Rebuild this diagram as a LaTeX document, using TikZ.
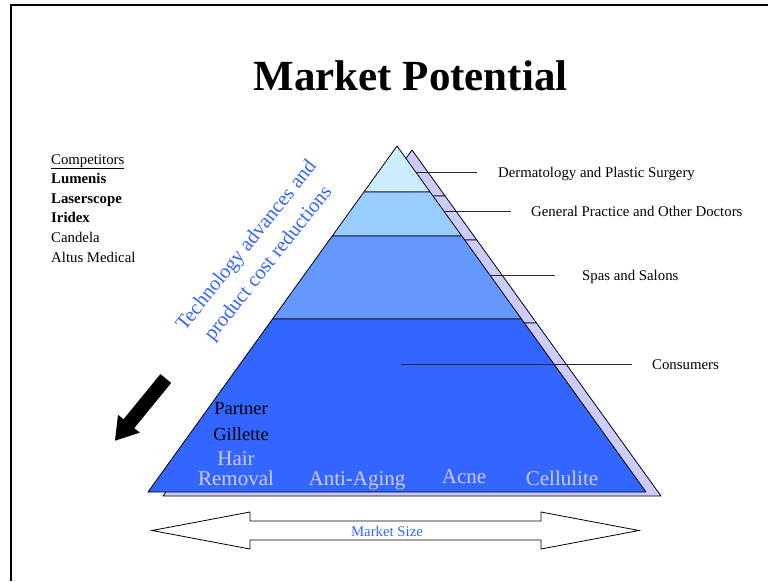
\documentclass[tikz,border=0pt]{standalone}
\usepackage{fontspec}
\setmainfont{Liberation Serif}
\definecolor{tierA}{HTML}{CCECFF}
\definecolor{tierB}{HTML}{99CCFF}
\definecolor{tierC}{HTML}{6699FF}
\definecolor{tierD}{HTML}{3366FF}
\definecolor{shade}{HTML}{CCCCFF}
\definecolor{labelblue}{HTML}{3366FF}
\definecolor{segtext}{HTML}{CCCCFF}
% the four tiers of the pyramid, each with its own fill
\newcommand\drawtiers[4]{%
  \draw[tier,fill=#1] (397,146) -- (430.1,192) -- (363.9,192) -- cycle;
  \draw[tier,fill=#2] (363.9,192) -- (430.1,192) -- (461.8,236) -- (332.2,236) -- cycle;
  \draw[tier,fill=#3] (332.2,236) -- (461.8,236) -- (521.5,319) -- (272.5,319) -- cycle;
  \draw[tier,fill=#4] (272.5,319) -- (521.5,319) -- (646,492) -- (148,492) -- cycle;
}
\begin{document}
\begin{tikzpicture}[x=1pt,y=-1pt,
  tier/.style={draw=black,line width=0.8pt,line join=round},
  leader/.style={draw=black!85,line width=0.9pt},
  seglabel/.style={inner sep=0pt,anchor=base west,font=\fontsize{14.8}{17}\selectfont},
  complabel/.style={inner sep=0pt,anchor=base west,font=\fontsize{14.8}{17}\selectfont},
  market/.style={inner sep=0pt,anchor=base,text=segtext,font=\fontsize{21}{20}\selectfont},
  partner/.style={inner sep=0pt,anchor=base,text=black,font=\fontsize{18.5}{20}\selectfont}]
\useasboundingbox (0,0) rectangle (768,581);
\fill[white] (0,0) rectangle (768,581);

% frame
\draw[line width=2pt] (768,5) -- (11,5) -- (11,581);

% title
\node[inner sep=0pt,anchor=base,font=\bfseries\fontsize{43}{48}\selectfont] (title) at (410.5,90) {Market Potential};

% competitors list
\node[complabel] (comp0) at (51,164) {\underline{Competitors}};
\node[complabel,font=\bfseries\fontsize{14.8}{17}\selectfont] (comp1) at (51,183.6) {Lumenis};
\node[complabel,font=\bfseries\fontsize{14.8}{17}\selectfont] (comp2) at (51,203.2) {Laserscope};
\node[complabel,font=\bfseries\fontsize{14.8}{17}\selectfont] (comp3) at (51,222.8) {Iridex};
\node[complabel] (comp4) at (51,242.4) {Candela};
\node[complabel] (comp5) at (51,262) {Altus Medical};

% rotated trend text
\node[inner sep=0pt,align=center,rotate=51.3,text=labelblue,
      font=\fontsize{20.5}{28}\selectfont] (trend) at (258,255)
  {Technology advances and\\product cost reductions};

% block arrow pointing down-left
\fill[black] (160.4,374.1) -- (171.2,382.9) -- (134.3,428.1) -- (139.8,432.6)
  -- (115,440.7) -- (118.0,414.8) -- (123.5,419.3) -- cycle;

% pyramid with its offset shadow
\begin{scope}[shift={(15,4)}]
  \drawtiers{shade}{shade}{shade}{shade}
\end{scope}
\drawtiers{tierA}{tierB}{tierC}{tierD}

% segment labels with leader lines
\coordinate (d1) at (415.7,172);  \coordinate (d2) at (477,172);
\coordinate (g1) at (443.8,211);  \coordinate (g2) at (511,211);
\coordinate (s1) at (489.8,275);  \coordinate (s2) at (555,275);
\coordinate (c1) at (401,364);    \coordinate (c2) at (632,364);
\draw[leader] (d1) -- (d2);
\draw[leader] (g1) -- (g2);
\draw[leader] (s1) -- (s2);
\draw[leader] (c1) -- (c2);
\node[seglabel] (derm) at (498,177) {Dermatology and Plastic Surgery};
\node[seglabel] (gp) at (531,216) {General Practice and Other Doctors};
\node[seglabel] (spa) at (582,280) {Spas and Salons};
\node[seglabel] (cons) at (652,369) {Consumers};

% texts inside the base tier
\node[partner] (partner) at (241,414) {Partner};
\node[partner] (gillette) at (241,440) {Gillette};
\node[market] (hair) at (236,465) {Hair};
\node[market] (removal) at (236,485) {Removal};
\node[market] (anti) at (357,485) {Anti-Aging};
\node[market] (acne) at (464,483) {Acne};
\node[market] (cell) at (562,485) {Cellulite};

% market size double arrow
\draw[line width=0.8pt,fill=white,line join=miter]
  (152,530.5) -- (250,512) -- (250,521) -- (541,521) -- (541,512) -- (639,530.5)
  -- (541,549) -- (541,540) -- (250,540) -- (250,549) -- cycle;
\node[inner sep=0pt,text=labelblue,font=\fontsize{14.8}{17}\selectfont] (msize) at (387,531) {Market Size};
\end{tikzpicture}
\end{document}
